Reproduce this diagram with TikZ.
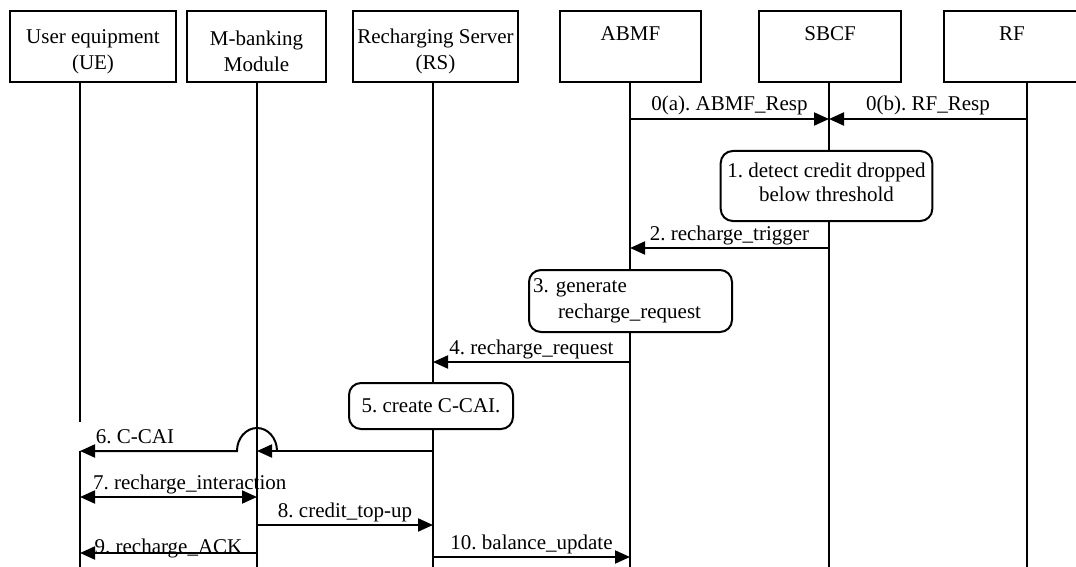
\documentclass[tikz,border=0pt]{standalone}
\usepackage{fontspec}
\setmainfont{Liberation Serif}
\usetikzlibrary{arrows.meta}
\frenchspacing

\begin{document}
\begin{tikzpicture}[x=0.5pt,y=-0.5pt,
    font=\fontsize{10.5}{13}\selectfont,
    actor/.style={draw, line width=1pt, anchor=north, minimum height=35.5pt, align=center, inner sep=1pt},
    life/.style={line width=0.8pt},
    stepbox/.style={draw, fill=white, line width=1pt, rounded corners=6pt, align=center},
    msg/.style={line width=1pt, -{Triangle[length=7.5pt,width=6.5pt]}},
    dmsg/.style={line width=1pt, {Triangle[length=7.5pt,width=6.5pt]}-{Triangle[length=7.5pt,width=6.5pt]}},
    lbl/.style={text height=7.5pt, text depth=2.5pt, inner sep=1pt}]
    \useasboundingbox (0,0) rectangle (1076,567);

    % participants
    \node[actor, minimum width=83pt] (ue) at (93,10) {\rule{0pt}{12.5pt}User equipment\\(UE)};
    \node[actor, minimum width=69.5pt] (mb) at (256.5,10) {\rule{0pt}{12.5pt}M-banking\\Module};
    \node[actor, minimum width=82.5pt] (rs) at (435.5,10) {\rule{0pt}{12.5pt}Recharging Server\\(RS)};
    \node[actor, minimum width=70.5pt] (abmf) at (630.5,10) {ABMF\\~};
    \node[actor, minimum width=71pt] (sbcf) at (830,10) {SBCF\\~};
    \node[actor, minimum width=68pt] (rf) at (1012,10) {RF\\~};

    % lifelines
    \foreach \n/\x in {ue/80, mb/257, rs/433, abmf/630, sbcf/829, rf/1027}
        \coordinate (\n-l) at (\x,81);
    \foreach \n in {mb,rs,abmf,sbcf,rf}
        \draw[life] (\n-l) -- (\n-l |- 0,567);
    \draw[life] (ue-l) -- (ue-l |- 0,422) (ue-l |- 0,451) -- (ue-l |- 0,567);

    % messages
    \draw[msg] (abmf-l |- 0,119) -- node[lbl, above] {0(a). ABMF\_Resp} (sbcf-l |- 0,119);
    \draw[msg] (rf-l |- 0,119) -- node[lbl, above] {0(b). RF\_Resp} (sbcf-l |- 0,119);

    \node[stepbox, minimum width=105.5pt, minimum height=35pt, font=\fontsize{10.5}{12}\selectfont] (s1) at (826.5,186) {1. detect credit dropped\\below threshold\rule[-4pt]{0pt}{4pt}};

    \draw[msg] (sbcf-l |- 0,248) -- node[lbl, above] {2. recharge\_trigger} (abmf-l |- 0,248);

    \node[stepbox, text width=97.5pt, minimum height=31pt, align=left, inner xsep=2pt] (s3) at (630.5,301) {3. generate\\\hspace*{12.5pt}recharge\_request};

    \draw[msg] (abmf-l |- 0,362) -- node[lbl, above] {4. recharge\_request} (rs-l |- 0,362);

    \node[stepbox, minimum width=82pt, minimum height=23pt] (s5) at (431,406) {5. create C-CAI.};

    % 6 jumps over the M-banking lifeline
    \draw[msg] (rs-l |- 0,451) -- (mb-l |- 0,451);
    \draw[msg] (mb-l |- 0,451) ++(20,0) arc[start angle=0, end angle=180, x radius=10pt, y radius=11.5pt]
        -- node[lbl, above, pos=0.65] {6. C-CAI} (ue-l |- 0,451);

    \draw[dmsg] (ue-l |- 0,497) -- node[lbl, above, pos=0.62] {7. recharge\_interaction} (mb-l |- 0,497);
    \draw[msg] (mb-l |- 0,525) -- node[lbl, above] {8. credit\_top-up} (rs-l |- 0,525);
    \draw[msg] (mb-l |- 0,553) -- node[lbl, above, yshift=-4pt] {9. recharge\_ACK} (ue-l |- 0,553);
    \draw[msg] (rs-l |- 0,557) -- node[lbl, above] {10. balance\_update} (abmf-l |- 0,557);

\end{tikzpicture}
\end{document}
